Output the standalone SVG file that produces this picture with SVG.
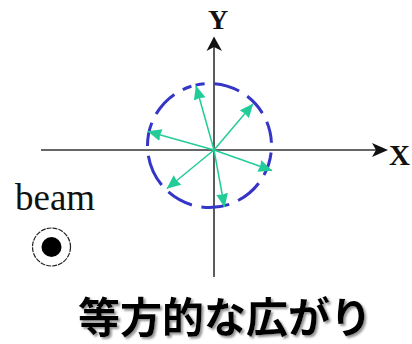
<svg xmlns="http://www.w3.org/2000/svg" width="412" height="344" viewBox="0 0 412 344">
  <style>
    .axis { stroke: #333333; stroke-width: 1.6; fill: none; }
    .axhead { fill: #111111; stroke: none; }
    .ring { stroke: #3535c8; stroke-width: 3; fill: none; stroke-linecap: butt; }
    .vec { stroke: #22cc99; stroke-width: 1.5; fill: none; marker-end: url(#gh); }
    .lbl { font-family: "Liberation Serif", "Times New Roman", serif; fill: #111111; }
    .title { font-family: "Noto Sans CJK JP", "Noto Sans", sans-serif; font-weight: bold; font-size: 42px; fill: #000000; }
  </style>
  <defs>
    <marker id="gh" viewBox="0 0 14 12" refX="13.5" refY="6" markerWidth="14" markerHeight="12" markerUnits="userSpaceOnUse" orient="auto">
      <path d="M0,0 L14,6 L0,12 L1,6 Z" fill="#22cc99"/>
    </marker>
    <filter id="shadow" x="-5%" y="-20%" width="110%" height="140%">
      <feDropShadow dx="2" dy="2" stdDeviation="1" flood-color="#888888" flood-opacity="0.9"/>
    </filter>
  </defs>
  <rect width="412" height="344" fill="#ffffff"/>

  <g id="axes">
    <line class="axis" x1="214" y1="42" x2="214" y2="277"/>
    <line class="axis" x1="41" y1="150" x2="383" y2="150"/>
    <path class="axhead" d="M214,36.5 L222,51 L214,47 L206.5,51 Z"/>
    <path class="axhead" d="M388,150 L372,143 L376,150 L372,157 Z"/>
  </g>

  <g id="ring">
    <path class="ring" d="M214.37,83.69 A62,62 0 0 1 239.09,91.01
      M247.24,96.31 A62,62 0 0 1 262.36,113.10
      M266.78,121.77 A62,62 0 0 1 271.44,142.80
      M271.10,152.52 A62,62 0 0 1 263.99,175.09
      M258.69,183.24 A62,62 0 0 1 238.13,200.49
      M229.17,204.30 A62,62 0 0 1 201.41,206.97
      M191.89,204.95 A62,62 0 0 1 168.42,191.94
      M161.66,184.94 A62,62 0 0 1 148.35,155.73
      M147.50,146.04 A62,62 0 0 1 151.82,122.78
      M156.08,114.04 A62,62 0 0 1 174.38,94.40
      M182.81,89.54 A62,62 0 0 1 191.37,86.21
      M195.55,85.09 A62,62 0 0 1 204.63,83.69"/>
  </g>

  <g id="connectors">
    <line class="vec" x1="214" y1="150" x2="196" y2="86"/>
    <line class="vec" x1="214" y1="150" x2="253" y2="104"/>
    <line class="vec" x1="214" y1="150" x2="148" y2="131.5"/>
    <line class="vec" x1="214" y1="150" x2="272" y2="170.5"/>
    <line class="vec" x1="214" y1="150" x2="167" y2="188.5"/>
    <line class="vec" x1="214" y1="150" x2="224.5" y2="207"/>
  </g>

  <g id="label-y">
    <text class="lbl" x="218" y="28.5" font-size="28" font-weight="bold" text-anchor="middle">Y</text>
  </g>
  <g id="label-x">
    <text class="lbl" x="399.5" y="165" font-size="29" font-weight="bold" text-anchor="middle">X</text>
  </g>

  <g id="beam">
    <text class="lbl" x="15" y="210" font-size="37">beam</text>
    <circle cx="51.5" cy="247" r="19" fill="none" stroke="#222222" stroke-width="1.2" stroke-dasharray="5 1"/>
    <circle cx="51.5" cy="247" r="10" fill="#000000"/>
  </g>

  <g id="title">
    <text class="title" x="225" y="333" text-anchor="middle" filter="url(#shadow)">等方的な広がり</text>
  </g>
</svg>
